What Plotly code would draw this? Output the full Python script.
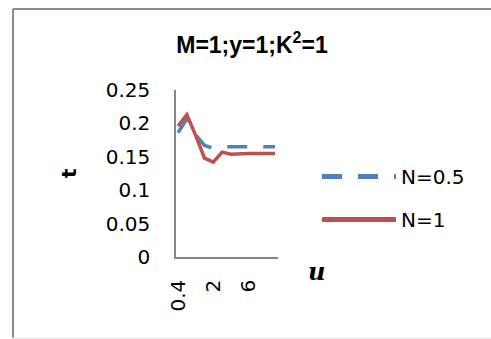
import plotly.graph_objects as go

# Category labels of the u axis (only every 4th is shown in the chart)
u_categories = ["0.4", "0.8", "1.2", "1.6", "2", "3", "4", "5", "6", "7", "8", "9"]
shown_ticks = ["0.4", "2", "6"]

t_N05 = [0.186, 0.207, 0.183, 0.167, 0.163, 0.165, 0.165, 0.165, 0.165, 0.165, 0.165, 0.165]
t_N1 = [0.196, 0.213, 0.182, 0.148, 0.142, 0.157, 0.154, 0.155, 0.155, 0.155, 0.155, 0.155]

idx = list(range(len(u_categories)))
tick_idx = [u_categories.index(c) for c in shown_ticks]

W, H = 491, 339
L, R, T, B = 176, 278, 90, 257  # plot area in px

def px_x(p):
    return (p - L) / (R - L)

def px_y(p):
    return (B - p) / (B - T)

fig = go.Figure()
fig.add_trace(go.Scatter(x=idx, y=t_N05, mode="lines", name="N=0.5", legendgroup="a",
                         line=dict(color="#4F81BD", width=3.5, dash="20px,16px")))
fig.add_trace(go.Scatter(x=idx, y=t_N1, mode="lines", name="N=1", legendgroup="b",
                         line=dict(color="#C0504D", width=3.5)))

tick_font = dict(family="DejaVu Sans", size=20, color="black")

fig.update_layout(
    width=W, height=H,
    margin=dict(l=L, r=W - R, t=T, b=H - B, autoexpand=False),
    paper_bgcolor="white", plot_bgcolor="white",
    showlegend=True,
    legend=dict(x=px_x(317), y=px_y(157), xanchor="left", yanchor="top",
                font=tick_font, bgcolor="rgba(0,0,0,0)", tracegroupgap=14,
                itemwidth=74, itemsizing="constant"),
    title=dict(text="<b>M=1;y=1;K<sup>2</sup>=1</b>", x=px_x(252), xref="paper",
               xanchor="center", y=1 - 45 / H, yanchor="middle",
               font=dict(family="Liberation Sans", size=23, color="black")),
    xaxis=dict(range=[-0.23, 11.34], tickmode="array", tickvals=tick_idx,
               ticktext=shown_ticks, tickangle=-90, showgrid=False, zeroline=False,
               showline=True, linecolor="#868686", linewidth=1.5, ticks="",
               tickfont=tick_font, ticklabelstandoff=13),
    yaxis=dict(range=[0, 0.25], dtick=0.05, tick0=0, showgrid=False, zeroline=False,
               showline=True, linecolor="#868686", linewidth=1.5, ticks="",
               tickfont=tick_font, ticklabelstandoff=20),
    annotations=[
        dict(text="<b>t</b>", x=px_x(55), y=px_y(173), xref="paper", yref="paper",
             showarrow=False, textangle=-90,
             font=dict(family="DejaVu Sans", size=20, color="black")),
        dict(text="<b><i>u</i></b>", x=px_x(327), y=px_y(288), xref="paper", yref="paper",
             showarrow=False, font=dict(family="DejaVu Serif", size=24, color="black")),
    ],
    shapes=[
        dict(type="line", xref="paper", yref="paper", x0=px_x(13), x1=px_x(13),
             y0=px_y(9), y1=px_y(338), line=dict(color="#8C8C8C", width=2)),
        dict(type="line", xref="paper", yref="paper", x0=px_x(13), x1=px_x(495),
             y0=px_y(9), y1=px_y(9), line=dict(color="#8C8C8C", width=2)),
        dict(type="line", xref="paper", yref="paper", x0=px_x(13), x1=px_x(495),
             y0=px_y(338), y1=px_y(338), line=dict(color="#E0E0E0", width=1)),
    ],
)

fig.write_html("out.html", config={"displayModeBar": False},
               post_script="document.body.style.margin='0';")
